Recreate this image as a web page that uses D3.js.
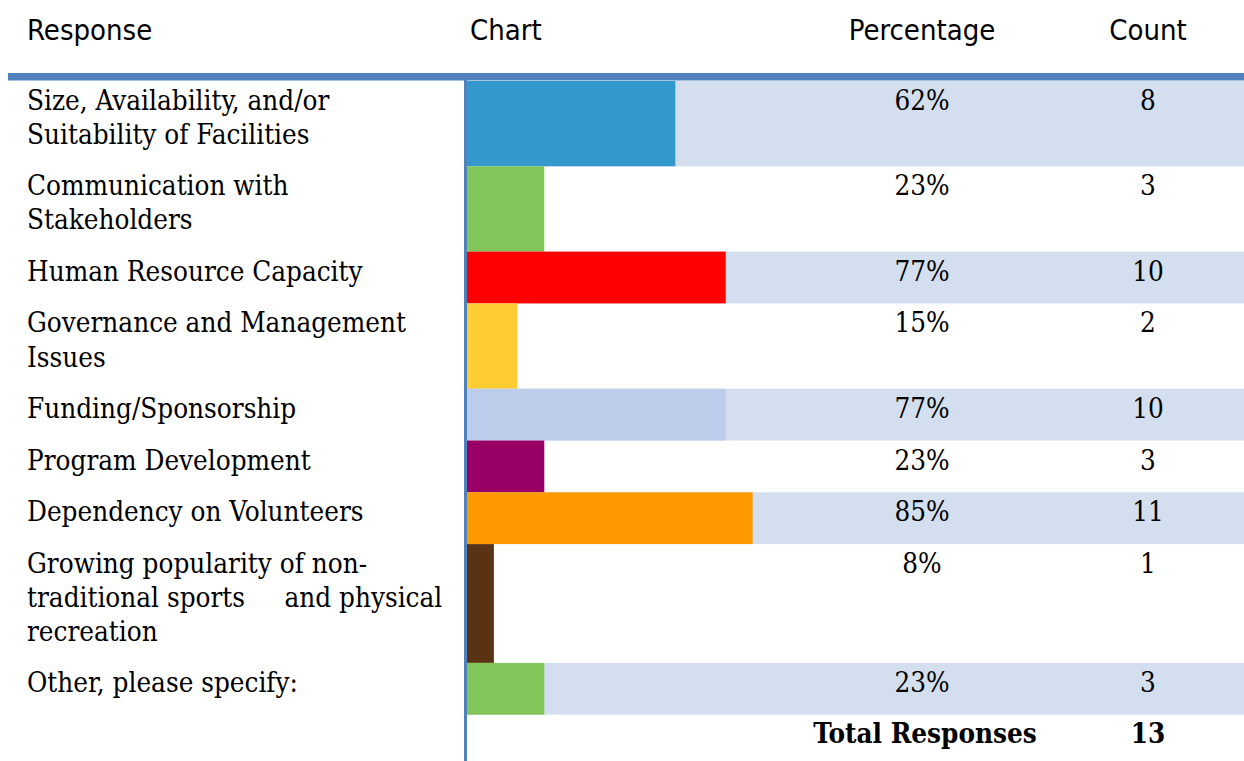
<!DOCTYPE html>
<html>
<head>
<meta charset="utf-8">
<script src="https://cdn.jsdelivr.net/npm/d3@7"></script>
<style>
  html, body { margin: 0; padding: 0; background: #fff; }
  svg { display: block; }
</style>
</head>
<body>
<svg id="chart" width="1244" height="761"></svg>
<script>
// table-style survey chart: response | bar | percentage | count
const headers = ['Response', 'Chart', 'Percentage', 'Count'];
const responseLines = [
  ['Size, Availability, and/or', 'Suitability of Facilities'],
  ['Communication with', 'Stakeholders'],
  ['Human Resource Capacity'],
  ['Governance and Management', 'Issues'],
  ['Funding/Sponsorship'],
  ['Program Development'],
  ['Dependency on Volunteers'],
  ['Growing popularity of non-', 'traditional sports     and physical', 'recreation'],
  ['Other, please specify:'],
];
const percentages = [62, 23, 77, 15, 77, 23, 85, 8, 23];
const counts = [8, 3, 10, 2, 10, 3, 11, 1, 3];
const barColors = ['#3399cc', '#82c65a', '#ff0000', '#ffcc33', '#bccdeb', '#990066', '#ff9900', '#5a3214', '#82c65a'];
const totalLabel = 'Total Responses';
const totalResponses = 13;

const W = 1244, H = 761;
const BODY_FONT = "'DejaVu Serif Condensed','DejaVu Serif',serif";
const HEAD_FONT = "'DejaVu Sans Condensed','DejaVu Sans',sans-serif";
const BODY_SIZE = 27.6;
const TOP = 81;            // first row top, just under the header rule
const LINE_H = 33.5;       // extra height per wrapped line
const ROW_H = 51.8;        // single-line row
const CHART_X = 467;       // left edge of the bar column
const PCT_X = 922, CNT_X = 1148;

const svg = d3.select('#chart');

// row tops from the number of wrapped lines
const rowHeights = responseLines.map(l => ROW_H + LINE_H * (l.length - 1));
const rowTops = [];
rowHeights.reduce((y, h) => { rowTops.push(y); return y + h; }, TOP);
const totalTop = rowTops[rowTops.length - 1] + rowHeights[rowHeights.length - 1];

const x = d3.scaleLinear().domain([0, 100]).range([CHART_X, CHART_X + 336]);

const rows = responseLines.map((lines, i) => ({
  lines, pct: percentages[i], count: counts[i], color: barColors[i],
  y: rowTops[i], h: rowHeights[i], shaded: i % 2 === 0,
}));

// alternating band shading across chart/percentage/count columns
svg.selectAll('rect.band').data(rows.filter(d => d.shaded)).join('rect')
  .attr('class', 'band')
  .attr('x', CHART_X).attr('y', d => d.y)
  .attr('width', W - CHART_X).attr('height', d => d.h)
  .attr('fill', '#d3dfef');

svg.selectAll('rect.bar').data(rows).join('rect')
  .attr('class', 'bar')
  .attr('x', x(0)).attr('y', d => d.y)
  .attr('width', d => x(d.pct) - x(0)).attr('height', d => d.h)
  .attr('fill', d => d.color);

// header
const headX = [27, 470, PCT_X, CNT_X];
svg.selectAll('text.head').data(headers).join('text')
  .attr('class', 'head')
  .attr('x', (d, i) => headX[i]).attr('y', 40)
  .attr('text-anchor', (d, i) => i >= 2 ? 'middle' : 'start')
  .attr('font-family', HEAD_FONT).attr('font-size', 29)
  .attr('fill', '#000')
  .text(d => d);

// rules
svg.append('rect').attr('x', 8).attr('y', 73).attr('width', W - 8).attr('height', 7.5).attr('fill', '#4f81bd');
svg.append('rect').attr('x', 464).attr('y', 80).attr('width', 3).attr('height', H - 80).attr('fill', '#4f81bd');

const row = svg.selectAll('g.row').data(rows).join('g').attr('class', 'row')
  .attr('transform', d => `translate(0,${d.y})`);

row.each(function(d) {
  const g = d3.select(this);
  g.selectAll('text.lbl').data(d.lines).join('text')
    .attr('class', 'lbl')
    .attr('x', 27).attr('y', (t, j) => 29 + j * 34.2)
    .attr('font-family', BODY_FONT).attr('font-size', BODY_SIZE)
    .style('white-space', 'pre')
    .text(t => t);
});

row.append('text')
  .attr('x', PCT_X).attr('y', 29)
  .attr('text-anchor', 'middle')
  .attr('font-family', BODY_FONT).attr('font-size', BODY_SIZE)
  .text(d => d.pct + '%');

row.append('text')
  .attr('x', CNT_X).attr('y', 29)
  .attr('text-anchor', 'middle')
  .attr('font-family', BODY_FONT).attr('font-size', BODY_SIZE)
  .text(d => d.count);

// total row
svg.append('text')
  .attr('x', 925).attr('y', totalTop + 28)
  .attr('text-anchor', 'middle')
  .attr('font-family', BODY_FONT).attr('font-size', BODY_SIZE).attr('font-weight', 'bold')
  .text(totalLabel);
svg.append('text')
  .attr('x', CNT_X).attr('y', totalTop + 28)
  .attr('text-anchor', 'middle')
  .attr('font-family', BODY_FONT).attr('font-size', BODY_SIZE).attr('font-weight', 'bold')
  .text(totalResponses);
</script>
</body>
</html>
